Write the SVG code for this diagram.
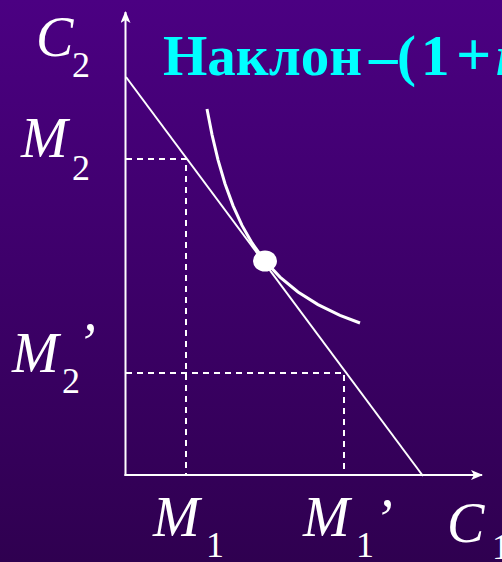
<svg xmlns="http://www.w3.org/2000/svg" width="502" height="562" viewBox="0 0 502 562">
<defs>
<linearGradient id="bg" x1="0" y1="0" x2="0" y2="1">
<stop offset="0" stop-color="#4b0082"/>
<stop offset="1" stop-color="#2f0050"/>
</linearGradient>
<marker id="arr" viewBox="0 0 12 10" refX="11" refY="5" markerWidth="12" markerHeight="10" markerUnits="userSpaceOnUse" orient="auto">
<path d="M0,0 L12,5 L0,10 L3,5 Z" fill="#ffffff"/>
</marker>
<style>
.ax{stroke:#ffffff;stroke-width:2;fill:none}
.ln{stroke:#ffffff;stroke-width:2;fill:none}
.cv{stroke:#ffffff;stroke-width:3;fill:none}
.ds{stroke:#ffffff;stroke-width:2;fill:none;stroke-dasharray:6 5}
.lb{font-family:"Liberation Serif","Times New Roman",serif;font-style:italic;fill:#ffffff;font-size:56px}
.sb{font-family:"Liberation Serif","Times New Roman",serif;font-style:normal;fill:#ffffff;font-size:36px}
.tt{font-family:"Liberation Serif","Times New Roman",serif;font-weight:bold;fill:#00ffff;font-size:57px}
</style>
</defs>
<rect x="0" y="0" width="502" height="562" fill="url(#bg)"/>
<g id="connectors">
<line class="ax" x1="125.5" y1="476" x2="125.5" y2="12" marker-end="url(#arr)"/>
<line class="ax" x1="124.5" y1="475" x2="482" y2="475" marker-end="url(#arr)"/>
<line class="ln" x1="126" y1="77" x2="423" y2="476"/>
<path class="ds" d="M126,159 H186 V475"/>
<path class="ds" d="M126,373 H344 V475"/>
</g>
<g id="indifference-curve">
<path class="cv" d="M207,109 L212,134.6 L218,159.8 L225,183.7 L233,205.6 L242,225.4 L252,243 L265,261 L280,277.1 L298,292 L318,304.6 L340,315.3 L360,323"/>
</g>
<g id="optimum">
<ellipse cx="265" cy="261" rx="12" ry="10.5" fill="#ffffff"/>
</g>
<g id="title">
<text class="tt" y="75"><tspan x="163">Наклон</tspan><tspan x="369">–</tspan><tspan x="397">(</tspan><tspan x="421">1</tspan><tspan x="456" font-size="62">+</tspan><tspan x="496" font-style="italic">r</tspan></text>
</g>
<g id="label-C2">
<text class="lb" x="36" y="56" font-size="52">C</text>
<text class="sb" x="72" y="77" font-size="28">2</text>
</g>
<g id="label-M2">
<text class="lb" x="21" y="157">M</text>
<text class="sb" x="72" y="180">2</text>
</g>
<g id="label-M2p">
<text class="lb" x="12" y="372">M</text>
<text class="sb" x="62" y="393">2</text>
<text class="lb" x="77" y="362">’</text>
</g>
<g id="label-M1">
<text class="lb" x="153" y="536">M</text>
<text class="sb" x="206" y="557">1</text>
</g>
<g id="label-M1p">
<text class="lb" x="303" y="536">M</text>
<text class="sb" x="356" y="557">1</text>
<text class="lb" x="374" y="538">’</text>
</g>
<g id="label-C1">
<text class="lb" x="447" y="542">C</text>
<text class="sb" x="492" y="559">1</text>
</g>
</svg>
